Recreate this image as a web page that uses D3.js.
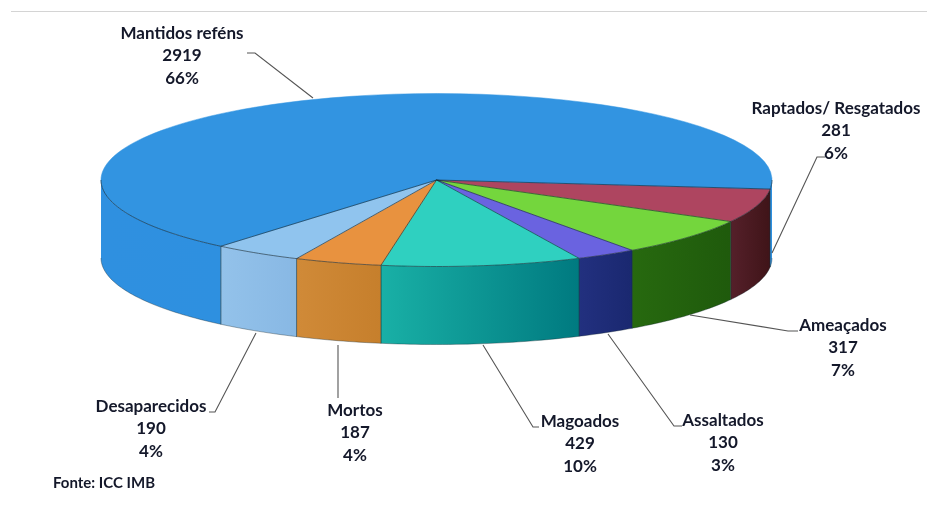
<!DOCTYPE html>
<html>
<head>
<meta charset="utf-8">
<script src="https://cdn.jsdelivr.net/npm/d3@7"></script>
<style>
  html, body { margin: 0; padding: 0; background: #fff; }
  svg { display: block; filter: blur(0.35px); }
  text { font-family: Lato, "Open Sans", sans-serif; font-weight: 700; font-size: 17px; fill: #14182a; }
</style>
</head>
<body>
<script>
// Dados
var categories = ["Raptados/ Resgatados", "Ameaçados", "Assaltados", "Magoados", "Mortos", "Desaparecidos", "Mantidos reféns"];
var values = [281, 317, 130, 429, 187, 190, 2919];
var percents = ["6%", "7%", "3%", "10%", "4%", "4%", "66%"];

// Cores
var topColors = ["#ae4560", "#74d63d", "#6a63e0", "#2fd0c0", "#e8923f", "#90c4ee", "#3294e1"];
var sideLight = ["#55202a", "#27690f", "#22307f", "#19b0a6", "#d08a38", "#93c2ea", "#2f90e0"];
var sideDark = ["#3f1418", "#1f5a0c", "#1a2870", "#007a80", "#c67f2c", "#88b8e4", "#2e90e0"];

// Rótulos: centro do texto, e linha de chamada (peça, cotovelo, texto)
var labelPos = [
  { x: 836, y: 108, leader: [[772, 253], [817, 157], [825, 157]] },
  { x: 843, y: 325, leader: [[690, 315], [788, 331], [798, 331]] },
  { x: 723, y: 420, leader: [[608, 334], [674, 426], [682, 426]] },
  { x: 580, y: 421, leader: [[483, 345], [533, 427], [539, 427]] },
  { x: 355, y: 410, leader: [[338, 345], [338, 398]] },
  { x: 151, y: 406, leader: [[256, 333], [215, 412], [209, 412]] },
  { x: 182, y: 33, leader: [[313, 98], [255, 53], [247, 53]] }
];

var width = 927, height = 510;
var cx = 436.5, cy = 180, rx = 335.5, ry = 86.5, depth = 78;
var deg = Math.PI / 180;
var startAngle = 96 * deg;
var lineGap = 22.5;

var svg = d3.select("body").append("svg")
    .attr("width", width)
    .attr("height", height);

// Linha de topo
svg.append("line")
    .attr("x1", 11).attr("x2", width)
    .attr("y1", 11.5).attr("y2", 11.5)
    .attr("stroke", "#d4d4d4")
    .attr("stroke-width", 1);

var pie = d3.pie().sort(null)
    .startAngle(startAngle)
    .endAngle(startAngle + 2 * Math.PI);

var slices = pie(values);

// Gradientes laterais
var defs = svg.append("defs");
slices.forEach(function(d, i) {
  var g = defs.append("linearGradient").attr("id", "side" + i);
  g.append("stop").attr("offset", "0%").attr("stop-color", sideLight[i]);
  g.append("stop").attr("offset", "100%").attr("stop-color", sideDark[i]);
});

function px(a) { return cx + rx * Math.sin(a); }
function py(a) { return cy - ry * Math.cos(a); }

function arcPoints(a0, a1, dy) {
  var n = Math.max(2, Math.ceil((a1 - a0) / deg));
  return d3.range(n + 1).map(function(k) {
    var a = a0 + (a1 - a0) * k / n;
    return [px(a), py(a) + dy];
  });
}

// Paredes: só a parte da frente (90 a 270 graus)
function sidePath(a0, a1) {
  return d3.line()(arcPoints(a0, a1, 0).concat(arcPoints(a0, a1, depth).reverse())) + "Z";
}

var front = [90 * deg, 270 * deg];
var sides = svg.append("g");
slices.forEach(function(d, i) {
  [0, 2 * Math.PI].forEach(function(shift) {
    var a0 = Math.max(d.startAngle - shift, front[0]);
    var a1 = Math.min(d.endAngle - shift, front[1]);
    if (a1 <= a0) return;
    sides.append("path")
        .attr("d", sidePath(a0, a1))
        .attr("fill", "url(#side" + i + ")");
    // arestas verticais entre as peças
    [a0, a1].forEach(function(a) {
      if (a === front[0] || a === front[1]) return;
      sides.append("line")
          .attr("x1", px(a)).attr("y1", py(a))
          .attr("x2", px(a)).attr("y2", py(a) + depth)
          .attr("stroke", "#12303a")
          .attr("stroke-opacity", 0.6)
          .attr("stroke-width", 0.8);
    });
  });
});

// Tampo
var arc = d3.arc().innerRadius(0).outerRadius(100);
svg.append("g")
    .attr("transform", "translate(" + cx + "," + cy + ") scale(" + rx / 100 + "," + ry / 100 + ")")
  .selectAll("path")
  .data(slices)
  .enter().append("path")
    .attr("d", arc)
    .attr("fill", function(d, i) { return topColors[i]; })
    .attr("stroke", function(d, i) { return topColors[i]; })
    .attr("stroke-width", 0.5)
    .attr("vector-effect", "non-scaling-stroke");

// Contornos: raios, borda da frente do tampo e base
var edges = svg.append("g")
    .attr("fill", "none")
    .attr("stroke", "#10242e")
    .attr("stroke-opacity", 0.75)
    .attr("stroke-width", 0.8);

slices.forEach(function(d) {
  edges.append("line")
      .attr("x1", cx).attr("y1", cy)
      .attr("x2", px(d.startAngle)).attr("y2", py(d.startAngle));
});
edges.append("path").attr("d", d3.line()(arcPoints(front[0], front[1], 0)));
edges.append("path").attr("d", d3.line()(arcPoints(front[0], front[1], depth)))
    .attr("stroke-opacity", 0.45);

// Linhas de chamada
svg.append("g").selectAll("path")
  .data(labelPos)
  .enter().append("path")
    .attr("d", function(d) { return d3.line()(d.leader); })
    .attr("fill", "none")
    .attr("stroke", "#555")
    .attr("stroke-width", 1.1);

// Rótulos
var labels = svg.append("g").selectAll("text")
  .data(categories)
  .enter().append("text")
    .attr("text-anchor", "middle");

labels.append("tspan")
    .attr("x", function(d, i) { return labelPos[i].x; })
    .attr("y", function(d, i) { return labelPos[i].y + 5.5; })
    .text(function(d) { return d; });
labels.append("tspan")
    .attr("x", function(d, i) { return labelPos[i].x; })
    .attr("y", function(d, i) { return labelPos[i].y + 5.5 + lineGap; })
    .text(function(d, i) { return values[i]; });
labels.append("tspan")
    .attr("x", function(d, i) { return labelPos[i].x; })
    .attr("y", function(d, i) { return labelPos[i].y + 5.5 + lineGap * 2; })
    .text(function(d, i) { return percents[i]; });

svg.append("text")
    .attr("x", 53)
    .attr("y", 488)
    .style("font-size", "15px")
    .text("Fonte: ICC IMB");
</script>
</body>
</html>
